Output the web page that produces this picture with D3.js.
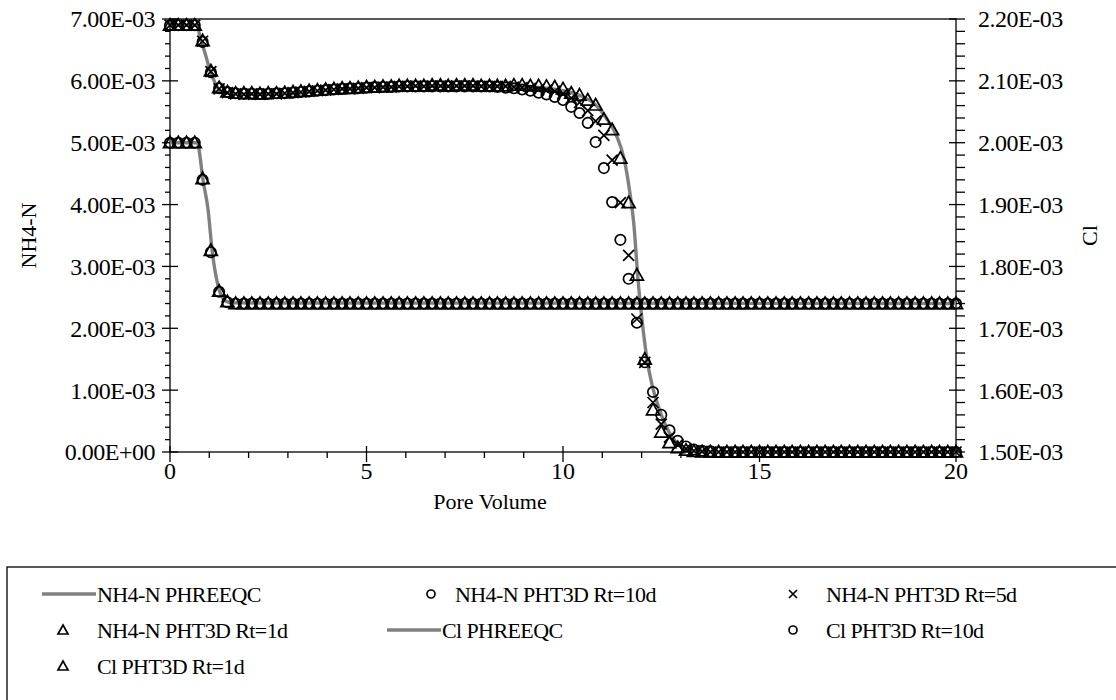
<!DOCTYPE html>
<html>
<head>
<meta charset="utf-8">
<script src="https://cdn.jsdelivr.net/npm/d3@7"></script>
<style>
body { margin: 0; background: #fff; }
text { font-family: "Liberation Serif", "Times New Roman", serif; fill: #000; }
</style>
</head>
<body>
<svg id="chart" width="1116" height="700"></svg>
<script>
// pore volumes of the PHT3D output (values below are in units of 1E-03)
var pv = [0, 0.21, 0.42, 0.63, 0.83, 1.04, 1.25, 1.46, 1.67, 1.88,
    2.08, 2.29, 2.50, 2.71, 2.92, 3.13, 3.33, 3.54, 3.75, 3.96,
    4.17, 4.38, 4.58, 4.79, 5.00, 5.21, 5.42, 5.63, 5.83, 6.04,
    6.25, 6.46, 6.67, 6.88, 7.08, 7.29, 7.50, 7.71, 7.92, 8.13,
    8.33, 8.54, 8.75, 8.96, 9.17, 9.38, 9.58, 9.79, 10.00, 10.21,
    10.42, 10.63, 10.83, 11.04, 11.25, 11.46, 11.67, 11.88, 12.08, 12.29,
    12.50, 12.71, 12.92, 13.13, 13.33, 13.54, 13.75, 13.96, 14.17, 14.38,
    14.58, 14.79, 15.00, 15.21, 15.42, 15.63, 15.83, 16.04, 16.25, 16.46,
    16.67, 16.88, 17.08, 17.29, 17.50, 17.71, 17.92, 18.13, 18.33, 18.54,
    18.75, 18.96, 19.17, 19.38, 19.58, 19.79, 20.00];

var nh4Rt10 = [6.90, 6.90, 6.90, 6.90, 6.63, 6.14, 5.88, 5.82, 5.80,
    5.79, 5.79, 5.79, 5.79, 5.80, 5.80, 5.81, 5.82, 5.83, 5.84, 5.85, 5.86,
    5.87, 5.88, 5.88, 5.89, 5.90, 5.90, 5.90, 5.91, 5.91, 5.91, 5.91, 5.91,
    5.91, 5.91, 5.91, 5.91, 5.91, 5.91, 5.91, 5.90, 5.89, 5.88, 5.86, 5.84,
    5.81, 5.78, 5.74, 5.69, 5.58, 5.48, 5.32, 5.01, 4.59, 4.04, 3.43, 2.80,
    2.09, 1.45, 0.97, 0.60, 0.35, 0.18, 0.09, 0.04, 0.02, 0.01, 0, 0,
    0, 0, 0, 0, 0, 0, 0, 0, 0, 0, 0, 0, 0, 0, 0, 0, 0, 0, 0, 0, 0, 0, 0, 0, 0, 0, 0, 0];

var nh4Rt5 = [6.90, 6.90, 6.90, 6.90, 6.64, 6.15, 5.87, 5.81, 5.79,
    5.78, 5.79, 5.78, 5.79, 5.79, 5.80, 5.81, 5.82, 5.83, 5.84, 5.85, 5.86,
    5.87, 5.87, 5.88, 5.89, 5.89, 5.90, 5.90, 5.91, 5.91, 5.92, 5.91, 5.92,
    5.92, 5.91, 5.92, 5.92, 5.92, 5.91, 5.91, 5.91, 5.91, 5.90, 5.89, 5.88,
    5.86, 5.85, 5.83, 5.79, 5.72, 5.65, 5.52, 5.35, 5.12, 4.72, 4.03, 3.18,
    2.15, 1.45, 0.80, 0.45, 0.24, 0.12, 0.05, 0.02, 0.01, 0, 0, 0,
    0, 0, 0, 0, 0, 0, 0, 0, 0, 0, 0, 0, 0, 0, 0, 0, 0, 0, 0, 0, 0, 0, 0, 0, 0, 0, 0, 0];

var nh4Rt1 = [6.90, 6.90, 6.90, 6.90, 6.65, 6.16, 5.89, 5.82, 5.80,
    5.80, 5.80, 5.79, 5.80, 5.80, 5.81, 5.82, 5.83, 5.84, 5.85, 5.86, 5.87,
    5.88, 5.88, 5.89, 5.90, 5.90, 5.91, 5.91, 5.92, 5.92, 5.92, 5.92, 5.93,
    5.93, 5.92, 5.93, 5.93, 5.93, 5.92, 5.92, 5.92, 5.92, 5.93, 5.93, 5.92,
    5.92, 5.91, 5.90, 5.87, 5.80, 5.77, 5.69, 5.61, 5.38, 5.21, 4.75, 4.03,
    2.86, 1.50, 0.68, 0.32, 0.15, 0.07, 0.03, 0.01, 0, 0, 0, 0,
    0, 0, 0, 0, 0, 0, 0, 0, 0, 0, 0, 0, 0, 0, 0, 0, 0, 0, 0, 0, 0, 0, 0, 0, 0, 0, 0, 0];

var clRt10 = [2.000, 2.000, 2.000, 2.000, 1.940, 1.823, 1.759, 1.742,
    1.74, 1.74, 1.74, 1.74, 1.74, 1.74, 1.74, 1.74, 1.74, 1.74,
    1.74, 1.74, 1.74, 1.74, 1.74, 1.74, 1.74, 1.74, 1.74, 1.74,
    1.74, 1.74, 1.74, 1.74, 1.74, 1.74, 1.74, 1.74, 1.74, 1.74,
    1.74, 1.74, 1.74, 1.74, 1.74, 1.74, 1.74, 1.74, 1.74, 1.74,
    1.74, 1.74, 1.74, 1.74, 1.74, 1.74, 1.74, 1.74, 1.74, 1.74,
    1.74, 1.74, 1.74, 1.74, 1.74, 1.74, 1.74, 1.74, 1.74, 1.74,
    1.74, 1.74, 1.74, 1.74, 1.74, 1.74, 1.74, 1.74, 1.74, 1.74,
    1.74, 1.74, 1.74, 1.74, 1.74, 1.74, 1.74, 1.74, 1.74, 1.74,
    1.74, 1.74, 1.74, 1.74, 1.74, 1.74, 1.74, 1.74, 1.74];

var clRt1 = [2.000, 2.000, 2.000, 2.000, 1.942, 1.826, 1.760, 1.743,
    1.74, 1.74, 1.74, 1.74, 1.74, 1.74, 1.74, 1.74, 1.74, 1.74,
    1.74, 1.74, 1.74, 1.74, 1.74, 1.74, 1.74, 1.74, 1.74, 1.74,
    1.74, 1.74, 1.74, 1.74, 1.74, 1.74, 1.74, 1.74, 1.74, 1.74,
    1.74, 1.74, 1.74, 1.74, 1.74, 1.74, 1.74, 1.74, 1.74, 1.74,
    1.74, 1.74, 1.74, 1.74, 1.74, 1.74, 1.74, 1.74, 1.74, 1.74,
    1.74, 1.74, 1.74, 1.74, 1.74, 1.74, 1.74, 1.74, 1.74, 1.74,
    1.74, 1.74, 1.74, 1.74, 1.74, 1.74, 1.74, 1.74, 1.74, 1.74,
    1.74, 1.74, 1.74, 1.74, 1.74, 1.74, 1.74, 1.74, 1.74, 1.74,
    1.74, 1.74, 1.74, 1.74, 1.74, 1.74, 1.74, 1.74, 1.74];

// PHREEQC curves
var nh4LinePv = [0, 0.68, 0.77, 0.89, 1.02, 1.15, 1.27, 1.45, 1.7, 3.0, 4.0, 5.0, 6.0, 8.0, 9.0,
    9.6, 10.0, 10.4, 10.8, 11.1, 11.37, 11.55, 11.7, 11.8, 11.91, 12.0, 12.14, 12.28,
    12.42, 12.55, 12.7, 12.85, 13.0, 13.2, 13.5, 14.0, 20.0];
var nh4LineVal = [6.90, 6.90, 6.70, 6.45, 6.17, 5.96, 5.84, 5.80, 5.79, 5.79, 5.85, 5.89, 5.91, 5.92, 5.91,
    5.88, 5.84, 5.77, 5.63, 5.40, 5.10, 4.75, 4.20, 3.70, 2.78, 2.20, 1.49, 1.05,
    0.75, 0.52, 0.32, 0.18, 0.09, 0.03, 0.005, 0, 0];
var clLinePv = [0, 0.70, 0.74, 0.84, 0.97, 1.07, 1.20, 1.32, 1.45, 1.6, 20.0];
var clLineVal = [2.000, 2.000, 1.988, 1.940, 1.891, 1.827, 1.775, 1.751, 1.743, 1.741, 1.740];

var xTicks = [0, 5, 10, 15, 20];
var yLeftTicks = [0, 1, 2, 3, 4, 5, 6, 7];
var yRightTicks = [1.5, 1.6, 1.7, 1.8, 1.9, 2.0, 2.1, 2.2];

var plotL = 170, plotR = 956, plotT = 19, plotB = 452;
var fontSize = 22;
var tickFont = 24;

var svg = d3.select("#chart");

var x = d3.scaleLinear().domain([0, 20]).range([plotL, plotR]);
var yL = d3.scaleLinear().domain([0, 7]).range([plotB, plotT]);
var yR = d3.scaleLinear().domain([1.5, 2.2]).range([plotB, plotT]);

function sci(v) {
    return v == 0 ? "0.00E+00" : v.toFixed(2) + "E-03";
}

// frame
svg.append("rect")
    .attr("x", plotL).attr("y", plotT)
    .attr("width", plotR - plotL).attr("height", plotB - plotT)
    .attr("fill", "none").attr("stroke", "#000").attr("stroke-width", 1.3);

var axisG = svg.append("g").attr("stroke", "#000").attr("stroke-width", 1.3);

// left axis ticks: majors cross, minors outside
d3.range(0, 36).forEach(function(i) {
    var v = i * 0.2;
    var major = i % 5 == 0;
    axisG.append("line")
        .attr("x1", major ? plotL - 8 : plotL - 5).attr("x2", major ? plotL + 8 : plotL)
        .attr("y1", yL(v)).attr("y2", yL(v));
});
// right axis ticks
d3.range(0, 36).forEach(function(i) {
    var v = 1.5 + i * 0.02;
    var major = i % 5 == 0;
    axisG.append("line")
        .attr("x1", major ? plotR - 7 : plotR).attr("x2", plotR + 9)
        .attr("y1", yR(v)).attr("y2", yR(v));
});
// bottom axis ticks
d3.range(0, 21).forEach(function(v) {
    var major = v % 5 == 0;
    axisG.append("line")
        .attr("x1", x(v)).attr("x2", x(v))
        .attr("y1", major ? plotB - 6 : plotB).attr("y2", major ? plotB + 10 : plotB + 6);
});

svg.append("g").selectAll("text")
    .data(yLeftTicks).enter().append("text")
    .attr("x", 155).attr("y", function(d) { return yL(d); })
    .attr("dy", "0.35em").attr("text-anchor", "end")
    .style("font-size", tickFont + "px").style("letter-spacing", "-0.5px")
    .text(sci);

svg.append("g").selectAll("text")
    .data(yRightTicks).enter().append("text")
    .attr("x", 978).attr("y", function(d) { return yR(d); })
    .attr("dy", "0.35em")
    .style("font-size", tickFont + "px").style("letter-spacing", "-0.5px")
    .text(sci);

svg.append("g").selectAll("text")
    .data(xTicks).enter().append("text")
    .attr("x", function(d) { return x(d); }).attr("y", 479)
    .attr("text-anchor", "middle")
    .style("font-size", tickFont + "px")
    .text(function(d) { return d; });

svg.append("text")
    .attr("x", 490).attr("y", 509)
    .attr("text-anchor", "middle")
    .style("font-size", fontSize + "px")
    .text("Pore Volume");

svg.append("text")
    .attr("transform", "translate(36," + ((plotT + plotB) / 2) + ") rotate(-90)")
    .attr("text-anchor", "middle")
    .style("font-size", fontSize + "px")
    .text("NH4-N");

svg.append("text")
    .attr("transform", "translate(1097," + ((plotT + plotB) / 2) + ") rotate(-90)")
    .attr("text-anchor", "middle")
    .style("font-size", fontSize + "px")
    .text("Cl");

// PHREEQC lines
var lineL = d3.line().curve(d3.curveMonotoneX)
    .x(function(d) { return x(d[0]); }).y(function(d) { return yL(d[1]); });
var lineR = d3.line().curve(d3.curveMonotoneX)
    .x(function(d) { return x(d[0]); }).y(function(d) { return yR(d[1]); });

svg.append("path")
    .attr("d", lineL(d3.zip(nh4LinePv, nh4LineVal)))
    .attr("fill", "none").attr("stroke", "#808080").attr("stroke-width", 3.4);
svg.append("path")
    .attr("d", lineR(d3.zip(clLinePv, clLineVal)))
    .attr("fill", "none").attr("stroke", "#808080").attr("stroke-width", 3.4);

// marker shapes
var triPath = "M0,-6.5L6.5,5L-6.5,5Z";
var crossPath = "M-5.5,-5.5L5.5,5.5M5.5,-5.5L-5.5,5.5";

function drawMarkers(vals, scale, kind) {
    var g = svg.append("g")
        .attr("fill", "none").attr("stroke", "#000").attr("stroke-width", 1.7);
    var pts = d3.zip(pv, vals);
    if (kind == "circle") {
        g.selectAll("circle").data(pts).enter().append("circle")
            .attr("cx", function(d) { return x(d[0]); })
            .attr("cy", function(d) { return scale(d[1]); })
            .attr("r", 5.2);
    } else {
        g.selectAll("path").data(pts).enter().append("path")
            .attr("d", kind == "tri" ? triPath : crossPath)
            .attr("transform", function(d) {
                return "translate(" + x(d[0]) + "," + scale(d[1]) + ")";
            });
    }
}

drawMarkers(nh4Rt10, yL, "circle");
drawMarkers(nh4Rt5, yL, "cross");
drawMarkers(nh4Rt1, yL, "tri");
drawMarkers(clRt10, yR, "circle");
drawMarkers(clRt1, yR, "tri");

// legend
svg.append("rect")
    .attr("x", 7).attr("y", 567)
    .attr("width", 1130).attr("height", 160)
    .attr("fill", "none").attr("stroke", "#000").attr("stroke-width", 1.3);

var legendItems = [
    {name: "NH4-N PHREEQC", kind: "line"},
    {name: "NH4-N PHT3D Rt=10d", kind: "circle"},
    {name: "NH4-N PHT3D Rt=5d", kind: "cross"},
    {name: "NH4-N PHT3D Rt=1d", kind: "tri"},
    {name: "Cl PHREEQC", kind: "line"},
    {name: "Cl PHT3D Rt=10d", kind: "circle"},
    {name: "Cl PHT3D Rt=1d", kind: "tri"}
];
var colText = [97, 455, 826];
var colLineEnd = [96, 441, 812];
var colSym = [63, 431, 793];
var rowY = [594, 630, 666];

legendItems.forEach(function(item, i) {
    var c = i % 3, r = Math.floor(i / 3);
    var cy = rowY[r];
    var tx = colText[c];
    var g = svg.append("g");
    if (item.kind == "line") {
        g.append("line")
            .attr("x1", colLineEnd[c] - 54).attr("x2", colLineEnd[c])
            .attr("y1", cy).attr("y2", cy)
            .attr("stroke", "#808080").attr("stroke-width", 3.4);
        tx = colLineEnd[c] + 1;
    } else if (item.kind == "circle") {
        g.append("circle").attr("cx", colSym[c]).attr("cy", cy).attr("r", 4)
            .attr("fill", "none").attr("stroke", "#000").attr("stroke-width", 1.7);
    } else if (item.kind == "cross") {
        g.append("path").attr("d", "M-4,-4L4,4M4,-4L-4,4")
            .attr("transform", "translate(" + colSym[c] + "," + cy + ")")
            .attr("fill", "none").attr("stroke", "#000").attr("stroke-width", 1.7);
    } else {
        g.append("path").attr("d", "M0,-5L5,4L-5,4Z")
            .attr("transform", "translate(" + colSym[c] + "," + cy + ")")
            .attr("fill", "none").attr("stroke", "#000").attr("stroke-width", 1.7);
    }
    g.append("text")
        .attr("x", tx).attr("y", cy).attr("dy", "0.35em")
        .style("font-size", fontSize + "px").style("letter-spacing", "-0.6px")
        .text(item.name);
});
</script>
</body>
</html>
